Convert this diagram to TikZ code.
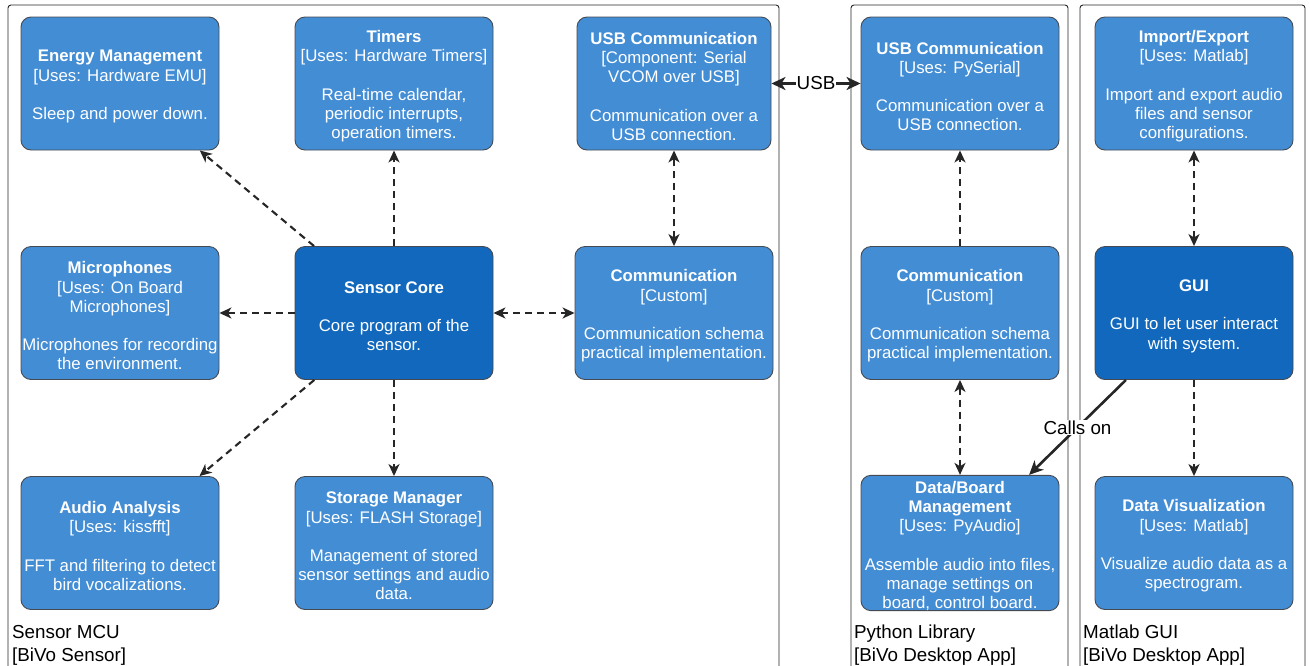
\documentclass[tikz,border=0pt]{standalone}
\usepackage{fontspec}
\setmainfont{Liberation Sans}
\usetikzlibrary{arrows.meta}
\definecolor{comp}{HTML}{438DD5}
\definecolor{cont}{HTML}{1168BD}
\definecolor{boxline}{HTML}{454A52}
\definecolor{wire}{HTML}{262626}
% strut on the first line of a box text, moves the text block down a little
\newcommand\toprule{\rule{0pt}{18pt}}

\begin{document}
\begin{tikzpicture}[x=1pt,y=-1pt,
  >={Stealth[length=12pt,width=11pt,inset=3.5pt]},
  box/.style={draw=boxline, line width=0.9pt, rounded corners=10pt, fill=comp,
    text=white, minimum width=198pt, minimum height=133pt, align=center,
    inner sep=0pt, font=\fontsize{16.8}{19.2}\selectfont},
  corebox/.style={box, fill=cont},
  bound/.style={draw=black!85, line width=0.9pt, rounded corners=3pt},
  boundlabel/.style={anchor=north west, align=left, inner sep=0pt,
    font=\fontsize{18.8}{23}\selectfont},
  dep/.style={draw=wire, line width=2.1pt, dash pattern=on 7pt off 5pt, ->},
  bidep/.style={dep, <->},
  call/.style={draw=wire, line width=2.6pt, ->,
    >={Stealth[length=14pt,width=13pt,inset=4pt]}},
  elabel/.style={fill=white, inner sep=1pt, text=black,
    font=\fontsize{18.8}{22}\selectfont}
]
\useasboundingbox (0,0) rectangle (1310,665);
\begin{scope}
\clip (0,0) rectangle (1310,665);

% system boundaries (open at the bottom)
\draw[bound] (8,700) -- (8,5) -- (779,5) -- (779,700);
\draw[bound] (851,700) -- (851,5) -- (1068,5) -- (1068,700);
\draw[bound] (1080,700) -- (1080,5) -- (1305,5) -- (1305,700);

\node[boundlabel] (lblmcu) at (12,625) {Sensor MCU\\{}[BiVo Sensor]};
\node[boundlabel] (lblpy) at (854,625) {Python Library\\{}[BiVo Desktop App]};
\node[boundlabel] (lblml) at (1083,625) {Matlab GUI\\{}[BiVo Desktop App]};

% Sensor MCU components
\node[box] (energy) at (120,83.5) {\toprule\textbf{Energy Management}\\{}[Uses: Hardware EMU]\\[19.2pt]Sleep and power down.};
\node[box] (timers) at (394,83.5) {\toprule\textbf{Timers}\\{}[Uses: Hardware Timers]\\[19.2pt]Real-time calendar,\\periodic interrupts,\\operation timers.};
\node[box, minimum width=194pt] (usbmcu) at (674,83.5) {\toprule\textbf{USB Communication}\\{}[Component: Serial\\VCOM over USB]\\[19.2pt]Communication over a\\USB connection.};
\node[box] (mics) at (120,313) {\toprule\textbf{Microphones}\\{}[Uses: On Board\\Microphones]\\[19.2pt]Microphones for recording\\the environment.};
\node[corebox] (core) at (394,313) {\toprule\textbf{Sensor Core}\\[19.2pt]Core program of the\\sensor.};
\node[box] (commmcu) at (674,313) {\toprule\textbf{Communication}\\{}[Custom]\\[19.2pt]Communication schema\\practical implementation.};
\node[box] (audio) at (120,543) {\toprule\textbf{Audio Analysis}\\{}[Uses: kissfft]\\[19.2pt]FFT and filtering to detect\\bird vocalizations.};
\node[box] (storage) at (394,543) {\toprule\textbf{Storage Manager}\\{}[Uses: FLASH Storage]\\[19.2pt]Management of stored\\sensor settings and audio\\data.};

% Python library components
\node[box] (usbpy) at (960,83.5) {\toprule\textbf{USB Communication}\\{}[Uses: PySerial]\\[19.2pt]Communication over a\\USB connection.};
\node[box] (commpy) at (960,313) {\toprule\textbf{Communication}\\{}[Custom]\\[19.2pt]Communication schema\\practical implementation.};
\node[box] (board) at (960,543) {\toprule\textbf{Data/Board}\\\textbf{Management}\\{}[Uses: PyAudio]\\[19.2pt]Assemble audio into files,\\manage settings on\\board, control board.};

% Matlab GUI components
\node[box] (impexp) at (1194,83.5) {\toprule\textbf{Import/Export}\\{}[Uses: Matlab]\\[19.2pt]Import and export audio\\files and sensor\\configurations.};
\node[corebox] (gui) at (1194,313) {\toprule\textbf{GUI}\\[19.2pt]GUI to let user interact\\with system.};
\node[box] (datavis) at (1194,543) {\toprule\textbf{Data Visualization}\\{}[Uses: Matlab]\\[19.2pt]Visualize audio data as a\\spectrogram.};

% dependencies inside the sensor
\draw[dep] (core) -- (energy);
\draw[dep] (core) -- (timers);
\draw[dep] (core) -- (mics);
\draw[dep] (core) -- (audio);
\draw[dep] (core) -- (storage);
\draw[bidep] (core) -- (commmcu);
\draw[bidep] (commmcu) -- (usbmcu);

% dependencies inside the desktop app
\draw[dep] (commpy) -- (usbpy);
\draw[bidep] (commpy) -- (board);
\draw[bidep] (gui) -- (impexp);
\draw[dep] (gui) -- (datavis);

% cross-boundary links
\draw[call, <->] (usbmcu) -- node[elabel] (usblbl) {USB} (usbpy);
\draw[call] (gui) -- node[elabel] (callslbl) {Calls on} (board);
\end{scope}
\end{tikzpicture}
\end{document}
